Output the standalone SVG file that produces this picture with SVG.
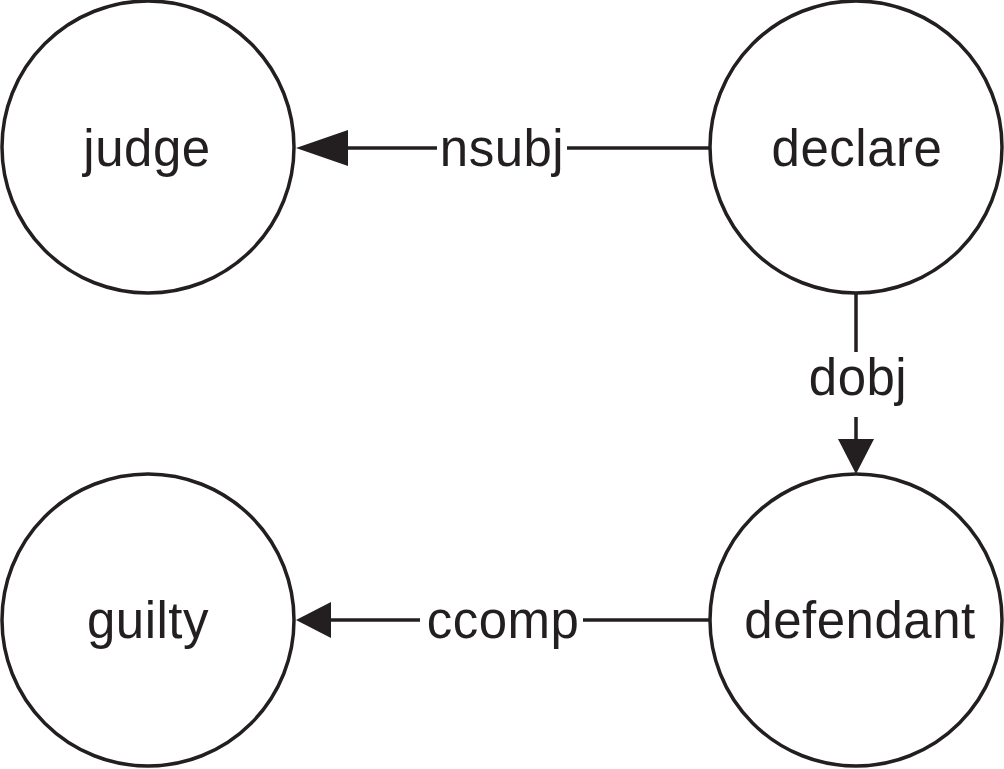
<svg xmlns="http://www.w3.org/2000/svg" width="1004" height="769" viewBox="0 0 1004 769">
<style>
.node{fill:#fff;stroke:#231f20;stroke-width:3.5}
.lbl{font-family:"Liberation Sans",Arial,sans-serif;font-size:51px;fill:#231f20;text-anchor:middle;letter-spacing:0.5px}
.edge{stroke:#231f20;stroke-width:3.5;fill:none}
.head{fill:#231f20}
</style>
<rect width="1004" height="769" fill="#fff"/>
<g id="judge"><circle class="node" cx="148" cy="147" r="146"/><text class="lbl" x="147" y="166">judge</text></g>
<g id="declare"><circle class="node" cx="856" cy="147" r="146"/><text class="lbl" x="857" y="166">declare</text></g>
<g id="guilty"><circle class="node" cx="148" cy="620" r="146"/><text class="lbl" x="148" y="638">guilty</text></g>
<g id="defendant"><circle class="node" cx="856" cy="620" r="146"/><text class="lbl" x="860" y="638">defendant</text></g>
<g id="connectors">
<line class="edge" x1="710" y1="148" x2="567" y2="148"/>
<line class="edge" x1="437" y1="148" x2="346" y2="148"/>
<polygon class="head" points="296,148 348,130 348,166"/>
<text class="lbl" x="502" y="166">nsubj</text>
<line class="edge" x1="856" y1="293" x2="856" y2="352"/>
<line class="edge" x1="856" y1="417" x2="856" y2="440"/>
<polygon class="head" points="856,474 838,439 874,439"/>
<text class="lbl" x="858" y="395">dobj</text>
<line class="edge" x1="710" y1="620" x2="583" y2="620"/>
<line class="edge" x1="420" y1="620" x2="328" y2="620"/>
<polygon class="head" points="296,620 331,602 331,638"/>
<text class="lbl" x="503" y="638">ccomp</text>
</g>
</svg>
